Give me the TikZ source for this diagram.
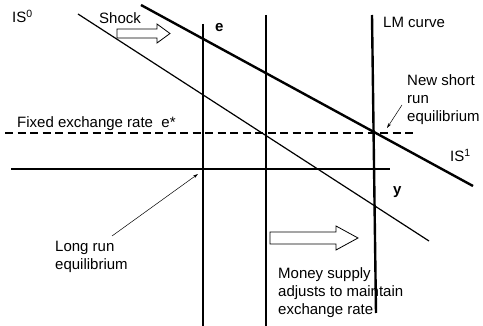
\documentclass[tikz,border=0pt]{standalone}
\usepackage{fontspec}
\setmainfont{Liberation Sans}
\usepackage{tikz}
\usetikzlibrary{arrows.meta}

\begin{document}
\begin{tikzpicture}[x=1pt,y=-1pt,
  every node/.style={font=\fontsize{15}{18}\selectfont, inner sep=0pt, anchor=base west, align=left},
  curve/.style={line width=1.2pt},
  thickcurve/.style={line width=2.4pt},
  pointer/.style={line width=0.5pt, -{Stealth[length=5pt,width=3pt]}},
  blockarrow/.style={line width=0.8pt, fill=white}]
  \useasboundingbox (0,0) rectangle (483,326);
  % Axes
  \draw[curve] (11,169) -- (390,169);
  \draw[curve] (203,24) -- (203,326);
  \draw[curve] (266,15) -- (266,326);
  \node[font=\fontsize{15}{18}\selectfont\bfseries] (elab) at (215,32) {e};
  \node[font=\fontsize{15}{18}\selectfont\bfseries] (ylab) at (393,195) {y};
  % Fixed exchange rate
  \draw[line width=1.2pt, dash pattern=on 8pt off 4.5pt] (5,133) -- (415,133);
  \node (fixed) at (17,128) {Fixed exchange rate\ \ e*};
  % IS curves
  \draw[curve] (78,14) -- (429,241);
  \node (is0) at (12,23) {IS\textsuperscript{0}};
  \draw[thickcurve] (141,5) -- (473,186);
  \node (is1) at (450,162) {IS\textsuperscript{1}};
  % LM curve
  \draw[thickcurve] (372,15) -- (376,313);
  \node (lm) at (383,28) {LM curve};
  % Shock
  \draw[blockarrow] (117,29) -- (157,29) -- (157,24) -- (170,33.5) -- (157,43) -- (157,38) -- (117,38) -- cycle;
  \node (shock) at (99,24) {Shock};
  % Money supply
  \draw[blockarrow] (270,232) -- (336,232) -- (336,226) -- (358,238) -- (336,250) -- (336,244) -- (270,244) -- cycle;
  \node (money) at (278,315) {Money supply\\adjusts to maintain\\exchange rate};
  % Equilibria
  \coordinate (srun) at (387,128);
  \coordinate (lrun) at (198,174);
  \node (newshort) at (407,122) {New short\\run\\equilibrium};
  \coordinate (newtail) at (402,105);
  \draw[pointer] (newtail) -- (srun);
  \node (longrun) at (55,270) {Long run\\equilibrium};
  \coordinate (longtail) at (112,236);
  \draw[pointer] (longtail) -- (lrun);
\end{tikzpicture}
\end{document}
